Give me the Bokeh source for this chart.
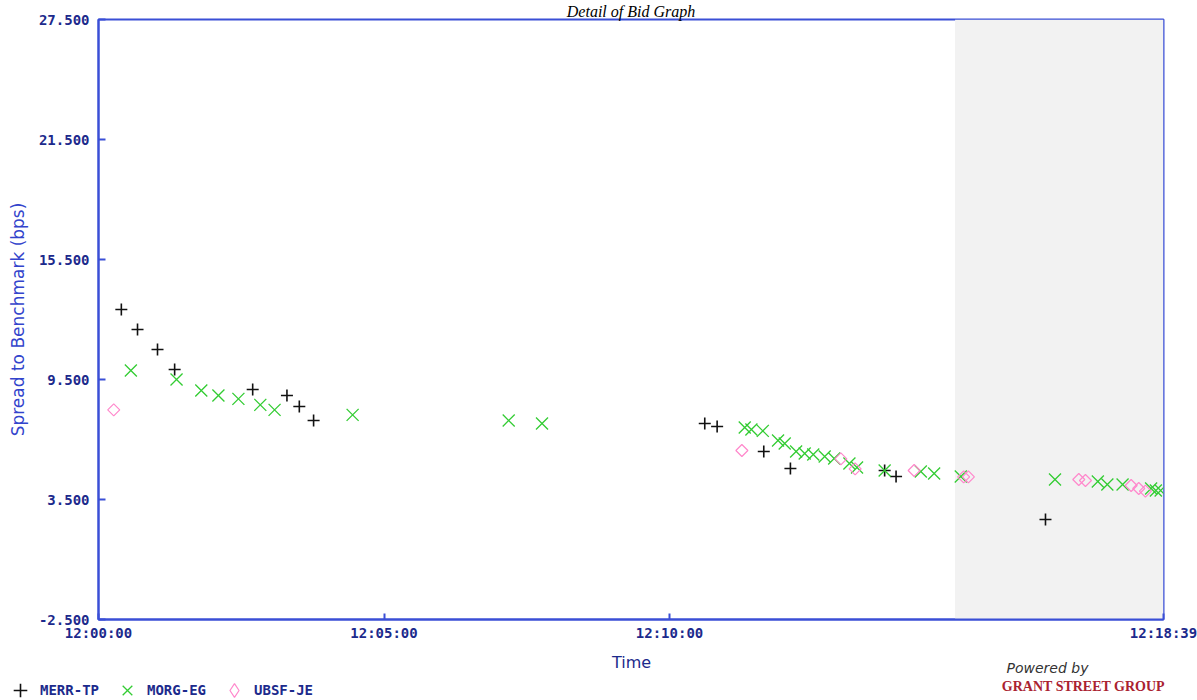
import math
from bokeh.plotting import figure
from bokeh.layouts import column
from bokeh.models import (Range1d, FixedTicker, BoxAnnotation, Label, Legend, LegendItem,
                          ColumnDataSource)
from bokeh.embed import file_html
from bokeh.resources import INLINE

# ---------------- data ----------------
merr_times = ["12:00:24", "12:00:41", "12:01:02", "12:01:20", "12:02:42", "12:03:18", "12:03:31",
              "12:03:46", "12:10:37", "12:10:50", "12:11:39", "12:12:07", "12:13:46", "12:13:58",
              "12:16:35"]
merr_vals = [13.0, 12.0, 11.0, 10.0, 9.0, 8.7, 8.15, 7.45, 7.3, 7.15, 5.9, 5.05, 4.95, 4.65, 2.5]

morg_times = ["12:00:34", "12:01:22", "12:01:48", "12:02:06", "12:02:27", "12:02:50", "12:03:05",
              "12:04:27", "12:07:11", "12:07:46", "12:11:19", "12:11:26", "12:11:38", "12:11:54",
              "12:12:01", "12:12:13", "12:12:22", "12:12:31", "12:12:43", "12:12:53", "12:13:09",
              "12:13:17", "12:13:46", "12:14:24", "12:14:38", "12:15:06", "12:16:45", "12:17:30",
              "12:17:40", "12:17:56", "12:18:26", "12:18:31", "12:18:36"]
morg_vals = [9.95, 9.5, 8.95, 8.7, 8.53, 8.23, 7.98, 7.73, 7.45, 7.3, 7.1, 7.0, 6.93, 6.45,
             6.3, 5.9, 5.8, 5.75, 5.65, 5.55, 5.3, 5.1, 4.95, 4.9, 4.8, 4.65, 4.5, 4.4,
             4.25, 4.25, 4.05, 3.95, 3.95]

ubsf_times = ["12:00:16", "12:11:16", "12:13:00", "12:13:15", "12:14:17", "12:15:09", "12:15:14",
              "12:17:10", "12:17:17", "12:18:05", "12:18:13", "12:18:20"]
ubsf_vals = [7.98, 5.95, 5.53, 5.03, 4.95, 4.63, 4.63, 4.5, 4.45, 4.2, 4.05, 3.92]

series_names = ["MERR-TP", "MORG-EG", "UBSF-JE"]
x_tick_labels = ["12:00:00", "12:05:00", "12:10:00", "12:18:39"]
y_ticks = [27.5, 21.5, 15.5, 9.5, 3.5, -2.5]
shade_start = "12:15:00"
title_text = "Detail of Bid Graph"
x_title = "Time"
y_title = "Spread to Benchmark (bps)"
logo_top = "Powered by"
logo_name = "GRANT STREET GROUP"


def secs(t):
    h, m, s = (int(v) for v in t.split(":"))
    return (h - 12) * 3600 + m * 60 + s


x_ticks = [secs(t) for t in x_tick_labels]

BLUE = "#3a4fd6"
NAVY = "#1c2a8c"
MONO = "DejaVu Sans Mono"
W = 1197
MAIN_H = 645
FOOT_H = 55

# ---------------- main chart ----------------
p = figure(width=W, height=MAIN_H, output_backend="svg", toolbar_location=None,
           x_range=Range1d(x_ticks[0], x_ticks[-1]), y_range=Range1d(y_ticks[-1], y_ticks[0]),
           min_border_left=98, min_border_right=34, min_border_top=19, min_border_bottom=26)
p.background_fill_color = "white"
p.border_fill_color = "white"
p.outline_line_color = BLUE
p.outline_line_width = 2
p.xgrid.visible = False
p.ygrid.visible = False

p.title.text = title_text
p.title.align = "center"
p.title.text_font = "Liberation Serif"
p.title.text_font_style = "italic"
p.title.text_font_size = "16px"
p.title.text_color = "black"
p.title.standoff = 0

p.add_layout(BoxAnnotation(left=secs(shade_start), right=x_ticks[-1], fill_color="#f2f2f2",
                           fill_alpha=1.0, line_alpha=0, level="underlay"))

xa = p.xaxis[0]
xa.ticker = FixedTicker(ticks=x_ticks)
xa.major_label_overrides = {t: l for t, l in zip(x_ticks, x_tick_labels)}
ya = p.yaxis[0]
ya.ticker = FixedTicker(ticks=y_ticks)
ya.major_label_overrides = {t: "%.3f" % t for t in y_ticks}
ya.axis_label = y_title
for ax in (xa, ya):
    ax.axis_line_color = BLUE
    ax.axis_line_width = 2
    ax.major_tick_line_color = BLUE
    ax.major_tick_line_width = 2
    ax.major_tick_out = 0
    ax.minor_tick_line_color = None
    ax.major_label_text_font = MONO
    ax.major_label_text_font_style = "bold"
    ax.major_label_text_font_size = "14px"
    ax.major_label_text_color = NAVY
xa.major_tick_in = 6
ya.major_tick_in = 7
xa.major_label_standoff = 5
ya.major_label_standoff = 9
ya.axis_label_text_font = "DejaVu Sans"
ya.axis_label_text_font_style = "normal"
ya.axis_label_text_font_size = "17px"
ya.axis_label_text_color = "#3344cc"
ya.axis_label_standoff = 8

src_m = ColumnDataSource(dict(x=[secs(t) for t in merr_times], y=merr_vals))
src_g = ColumnDataSource(dict(x=[secs(t) for t in morg_times], y=morg_vals))
src_u = ColumnDataSource(dict(x=[secs(t) for t in ubsf_times], y=ubsf_vals))
sources = [src_m, src_g, src_u]

styles = [
    dict(marker="cross", size=12, line_color="#111111", line_width=1.6),
    dict(marker="x", size=17, line_color="#33cc33", line_width=1.3),
    dict(marker="square", angle=math.pi / 4, size=8.5, line_color="#ff88cc", fill_alpha=0,
         line_width=1.2),
]
for src, st in zip(sources, styles):
    p.scatter("x", "y", source=src, **st)

# ---------------- footer: axis title, legend, logo ----------------
f = figure(width=W, height=FOOT_H, output_backend="svg", toolbar_location=None,
           x_range=Range1d(0, W), y_range=Range1d(MAIN_H + FOOT_H, MAIN_H),
           x_axis_location=None, y_axis_location=None, min_border=0)
for fig in (p, f):
    try:
        fig.frame_align = False
    except Exception:
        pass
f.outline_line_color = None
f.xgrid.visible = False
f.ygrid.visible = False
f.background_fill_color = "white"
f.border_fill_color = "white"

legend_styles = [
    dict(marker="cross", line_color="#111111", line_width=1.6),
    dict(marker="x", line_color="#33cc33", line_width=1.3),
    dict(marker="diamond", line_color="#ff88cc", fill_alpha=0, line_width=1.2),
]
# legend renderers share the series sources (the points fall outside this strip's range)
leg_r = [f.scatter("x", "y", source=src, **st) for src, st in zip(sources, legend_styles)]
legend = Legend(items=[LegendItem(label=n, renderers=[r]) for n, r in zip(series_names, leg_r)],
                orientation="horizontal", location=(3, -7),
                glyph_width=34, glyph_height=34, label_standoff=3, spacing=11,
                padding=0, margin=0, border_line_color=None, background_fill_alpha=0,
                label_text_font=MONO, label_text_font_style="bold",
                label_text_font_size="14px", label_text_color=NAVY)
f.add_layout(legend, "center")

f.add_layout(Label(x=631, y=662, text=x_title, text_font="DejaVu Sans", text_font_size="16px",
                   text_color=NAVY, text_align="center", text_baseline="middle"))
f.add_layout(Label(x=1047, y=667, text=logo_top, text_font="DejaVu Sans",
                   text_font_style="italic", text_font_size="14px", text_color="#333333",
                   text_align="center", text_baseline="middle"))
f.add_layout(Label(x=1083, y=686, text=logo_name, text_font="Liberation Serif",
                   text_font_style="bold", text_font_size="14px", text_color="#aa2230",
                   text_align="center", text_baseline="middle"))

layout = column(p, f, spacing=0)
open("out.html", "w").write(file_html(layout, INLINE))
